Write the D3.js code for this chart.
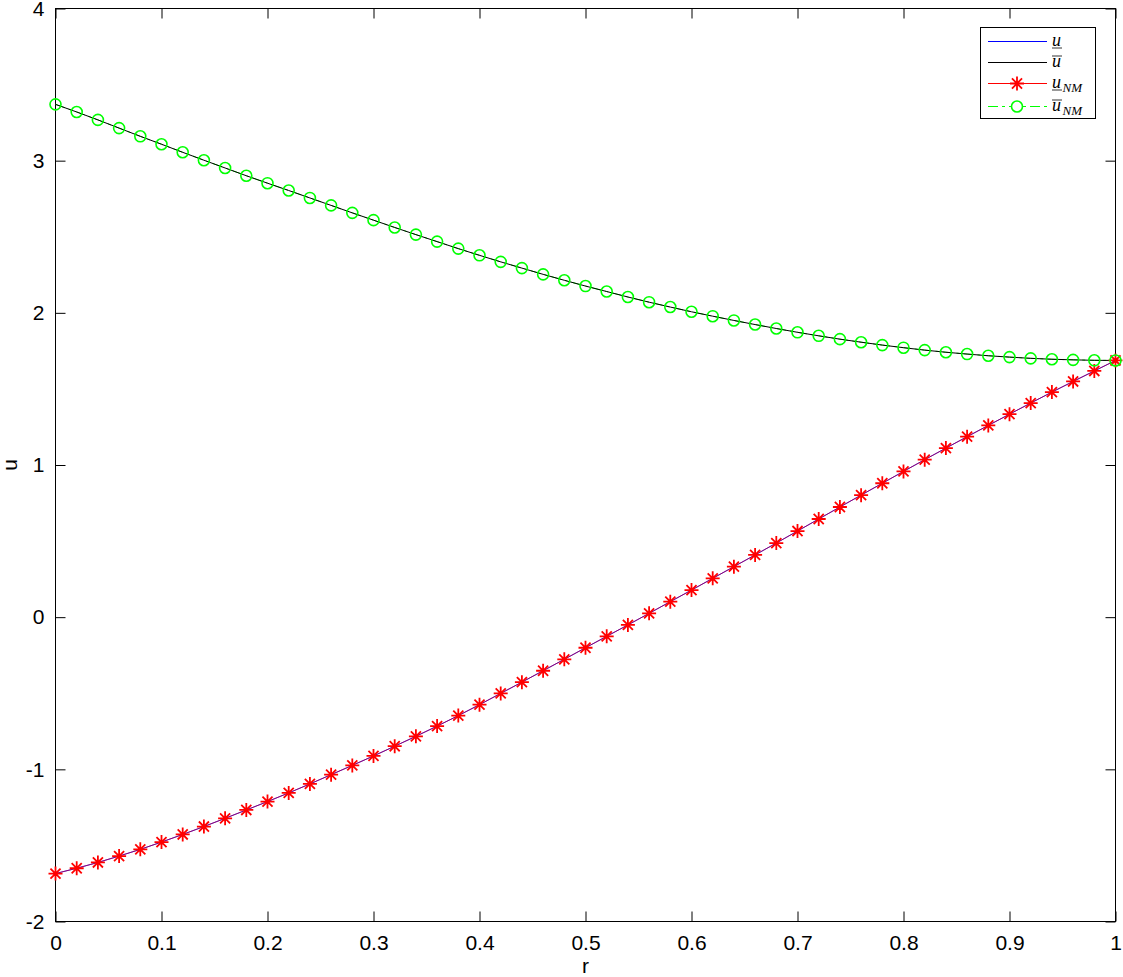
<!DOCTYPE html>
<html>
<head>
<meta charset="utf-8">
<script src="https://cdn.jsdelivr.net/npm/d3@7"></script>
<style>
  body { margin: 0; background: #fff; }
  svg { display: block; }
  .tick text { font-family: "Liberation Sans", Arial, sans-serif; font-size: 21px; fill: #000; }
  .tick line { stroke: #000; }
  .axis-title { font-family: "Liberation Sans", Arial, sans-serif; font-size: 21px; fill: #000; }
  .legend text { font-family: "Liberation Serif", "DejaVu Serif", serif; font-style: italic; fill: #000; }
</style>
</head>
<body>
<div id="chart"></div>
<script>
// r grid (51 points)
var rValues = [0, 0.02, 0.04, 0.06, 0.08, 0.10, 0.12, 0.14, 0.16, 0.18,
  0.20, 0.22, 0.24, 0.26, 0.28, 0.30, 0.32, 0.34, 0.36, 0.38,
  0.40, 0.42, 0.44, 0.46, 0.48, 0.50, 0.52, 0.54, 0.56, 0.58,
  0.60, 0.62, 0.64, 0.66, 0.68, 0.70, 0.72, 0.74, 0.76, 0.78,
  0.80, 0.82, 0.84, 0.86, 0.88, 0.90, 0.92, 0.94, 0.96, 0.98, 1.00];

// lower solution (underline u)
var uLower = [-1.685, -1.650, -1.612, -1.570, -1.526, -1.478, -1.428, -1.376, -1.322, -1.267,
  -1.212, -1.155, -1.096, -1.035, -0.974, -0.912, -0.848, -0.783, -0.716, -0.647,
  -0.575, -0.501, -0.427, -0.352, -0.277, -0.201, -0.126, -0.051, 0.025, 0.102,
  0.178, 0.255, 0.332, 0.409, 0.487, 0.566, 0.645, 0.724, 0.802, 0.880,
  0.958, 1.035, 1.111, 1.186, 1.260, 1.334, 1.407, 1.479, 1.549, 1.618, 1.687];

// upper solution (overline u)
var uUpper = [3.370, 3.320, 3.268, 3.214, 3.160, 3.108, 3.055, 3.003, 2.952, 2.901,
  2.852, 2.804, 2.755, 2.706, 2.657, 2.609, 2.561, 2.514, 2.468, 2.422,
  2.378, 2.335, 2.294, 2.253, 2.214, 2.176, 2.140, 2.104, 2.070, 2.038,
  2.007, 1.978, 1.950, 1.923, 1.897, 1.872, 1.849, 1.827, 1.807, 1.788,
  1.771, 1.755, 1.741, 1.729, 1.718, 1.709, 1.701, 1.695, 1.691, 1.688, 1.687];

// numerical method results, same points as the markers show
var uLowerNM = uLower.slice();
var uUpperNM = uUpper.slice();

var xTicks = [0, 0.1, 0.2, 0.3, 0.4, 0.5, 0.6, 0.7, 0.8, 0.9, 1];
var yTicks = [-2, -1, 0, 1, 2, 3, 4];
var xTickLabels = ["0", "0.1", "0.2", "0.3", "0.4", "0.5", "0.6", "0.7", "0.8", "0.9", "1"];
var yTickLabels = ["-2", "-1", "0", "1", "2", "3", "4"];

var W = 1123, H = 977;
var pLeft = 55.5, pRight = 1115.5, pTop = 8.5, pBottom = 921.5;

var svg = d3.select("#chart").append("svg")
  .attr("width", W)
  .attr("height", H);

var x = d3.scaleLinear().domain([0, 1]).range([pLeft, pRight]);
var y = d3.scaleLinear().domain([-2, 4]).range([pBottom, pTop]);

// axes, ticks pointing in
var xAxis = d3.axisBottom(x).tickValues(xTicks)
  .tickFormat(function(d, i) { return xTickLabels[i]; })
  .tickSizeInner(-10).tickSizeOuter(0).tickPadding(14);
var yAxis = d3.axisLeft(y).tickValues(yTicks)
  .tickFormat(function(d, i) { return yTickLabels[i]; })
  .tickSizeInner(-10).tickSizeOuter(0).tickPadding(11);

svg.append("g").attr("transform", "translate(0," + pBottom + ")").call(xAxis)
  .call(function(g) { g.select(".domain").remove(); });
svg.append("g").attr("transform", "translate(" + pLeft + ",0)").call(yAxis)
  .call(function(g) { g.select(".domain").remove(); });
// mirrored ticks top/right
svg.append("g").attr("transform", "translate(0," + pTop + ")")
  .call(d3.axisTop(x).tickValues(xTicks).tickFormat("").tickSizeInner(-10).tickSizeOuter(0))
  .call(function(g) { g.select(".domain").remove(); });
svg.append("g").attr("transform", "translate(" + pRight + ",0)")
  .call(d3.axisRight(y).tickValues(yTicks).tickFormat("").tickSizeInner(-10).tickSizeOuter(0))
  .call(function(g) { g.select(".domain").remove(); });

svg.append("rect")
  .attr("x", pLeft).attr("y", pTop)
  .attr("width", pRight - pLeft).attr("height", pBottom - pTop)
  .attr("fill", "none").attr("stroke", "#000").attr("stroke-width", 1);

svg.append("text").attr("class", "axis-title")
  .attr("x", (pLeft + pRight) / 2).attr("y", 973)
  .attr("text-anchor", "middle").text("r");
svg.append("text").attr("class", "axis-title")
  .attr("transform", "translate(17," + ((pTop + pBottom) / 2) + ") rotate(-90)")
  .attr("text-anchor", "middle").text("u");

var plot = svg.append("g");

function lineOf(vals) {
  return d3.line()
    .x(function(d, i) { return x(rValues[i]); })
    .y(function(d) { return y(d); })(vals);
}

function asterisk(s) {
  var d = s * 0.72;
  return "M" + (-s) + ",0L" + s + ",0M0," + (-s) + "L0," + s +
    "M" + (-d) + "," + (-d) + "L" + d + "," + d +
    "M" + (-d) + "," + d + "L" + d + "," + (-d);
}

// green dash-dot under black line
plot.append("path").attr("d", lineOf(uUpperNM))
  .attr("fill", "none").attr("stroke", "#00ff00").attr("stroke-width", 1)
  .attr("stroke-dasharray", "10,4,3,4");
plot.append("path").attr("d", lineOf(uUpper))
  .attr("fill", "none").attr("stroke", "#000").attr("stroke-width", 1);

plot.append("path").attr("d", lineOf(uLower))
  .attr("fill", "none").attr("stroke", "#0000ff").attr("stroke-width", 1);
plot.append("path").attr("d", lineOf(uLowerNM))
  .attr("fill", "none").attr("stroke", "#ff0000").attr("stroke-width", 0.7)
  .attr("stroke-opacity", 0.8);

plot.selectAll(".star").data(uLowerNM).enter().append("path")
  .attr("class", "star")
  .attr("transform", function(d, i) { return "translate(" + x(rValues[i]) + "," + y(d) + ")"; })
  .attr("d", asterisk(7))
  .attr("fill", "none").attr("stroke", "#ff0000").attr("stroke-width", 1.8);

plot.selectAll(".circ").data(uUpperNM).enter().append("circle")
  .attr("class", "circ")
  .attr("cx", function(d, i) { return x(rValues[i]); })
  .attr("cy", function(d) { return y(d); })
  .attr("r", 5.5)
  .attr("fill", "none").attr("stroke", "#00ff00").attr("stroke-width", 1.6);

// legend
var legend = svg.append("g").attr("class", "legend");
legend.append("rect")
  .attr("x", 980.5).attr("y", 27.5).attr("width", 115).attr("height", 91)
  .attr("fill", "#fff").attr("stroke", "#000").attr("stroke-width", 1);

var legendItems = [
  { color: "#0000ff", dash: null, marker: null, bar: "under", sub: "" },
  { color: "#000000", dash: null, marker: null, bar: "over", sub: "" },
  { color: "#ff0000", dash: null, marker: "star", bar: "under", sub: "NM" },
  { color: "#00ff00", dash: "10,4,3,4", marker: "circle", bar: "over", sub: "NM" }
];
var legendRows = [41.5, 62.5, 83.5, 106.5];

legendItems.forEach(function(it, i) {
  var ry = legendRows[i];
  legend.append("line")
    .attr("x1", 988).attr("x2", 1047).attr("y1", ry).attr("y2", ry)
    .attr("stroke", it.color).attr("stroke-width", 1)
    .attr("stroke-dasharray", it.dash);
  if (it.marker === "star") {
    legend.append("path").attr("transform", "translate(1017," + ry + ")")
      .attr("d", asterisk(7)).attr("fill", "none")
      .attr("stroke", it.color).attr("stroke-width", 1.8);
  } else if (it.marker === "circle") {
    legend.append("circle").attr("cx", 1017).attr("cy", ry).attr("r", 5.5)
      .attr("fill", "#fff").attr("stroke", it.color).attr("stroke-width", 1.6);
  }
  var base = ry + 4;
  var t = legend.append("text").attr("x", 1052).attr("y", base)
    .style("font-size", "18px").text("u");
  var w = t.node().getComputedTextLength();
  var by = it.bar === "under" ? base + 2.5 : base - 10.5;
  legend.append("line")
    .attr("x1", 1052).attr("x2", 1052 + w + 1)
    .attr("y1", by).attr("y2", by)
    .attr("stroke", "#000").attr("stroke-width", 0.8);
  if (it.sub) {
    legend.append("text").attr("x", 1052 + w + 1.5).attr("y", base + 4)
      .style("font-size", "13px").text(it.sub);
  }
});
</script>
</body>
</html>
